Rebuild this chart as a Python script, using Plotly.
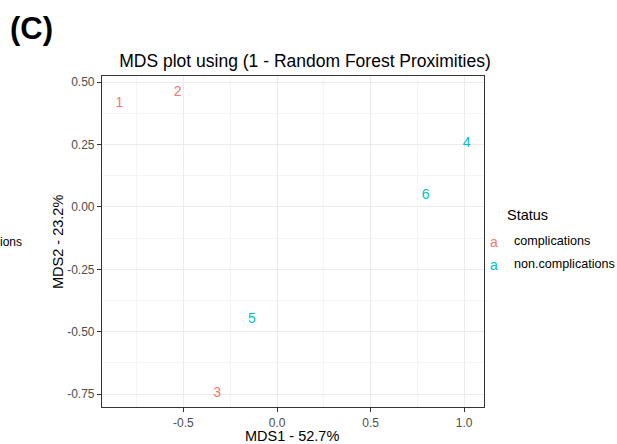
import plotly.graph_objects as go

labels = ["1", "2", "3", "4", "5", "6"]
mds1 = [-0.842, -0.531, -0.320, 1.013, -0.134, 0.794]
mds2 = [0.413, 0.458, -0.747, 0.253, -0.450, 0.044]
status = ["complications", "complications", "complications",
          "non.complications", "non.complications", "non.complications"]
groups = ["complications", "non.complications"]
colors = {"complications": "#F8766D", "non.complications": "#00BFC4"}

W, H = 617, 444
L, R, T, B = 102, 133, 76, 37

fig = go.Figure()
for g in groups:
    idx = [i for i, s in enumerate(status) if s == g]
    fig.add_trace(go.Scatter(
        x=[mds1[i] for i in idx], y=[mds2[i] for i in idx],
        text=[labels[i] for i in idx], mode="text",
        textfont=dict(color=colors[g], size=14, family="Liberation Sans"),
        name=g, showlegend=False))

def px(x):
    return (x - L) / (W - L - R)

def py(y):
    return 1 - (y - T) / (H - T - B)

ann = []
ann.append(dict(text="<b>(C)</b>", x=px(8), y=py(29), xref="paper", yref="paper",
                xanchor="left", yanchor="middle", showarrow=False,
                font=dict(size=31, color="black", family="Liberation Sans")))
ann.append(dict(text="ions", x=px(-2), y=py(242), xref="paper", yref="paper",
                xanchor="left", yanchor="middle", showarrow=False,
                font=dict(size=12, color="black", family="Liberation Sans")))
ann.append(dict(text="Status", x=px(505), y=py(215), xref="paper", yref="paper",
                xanchor="left", yanchor="middle", showarrow=False,
                font=dict(size=14.5, color="black", family="Liberation Sans")))
for k, g in enumerate(groups):
    yy = 242 + k * 23
    ann.append(dict(text="a", x=px(494), y=py(yy), xref="paper", yref="paper",
                    xanchor="center", yanchor="middle", showarrow=False,
                    font=dict(size=14, color=colors[g], family="Liberation Sans")))
    ann.append(dict(text=g, x=px(512), y=py(yy - 1), xref="paper", yref="paper",
                    xanchor="left", yanchor="middle", showarrow=False,
                    font=dict(size=12.6, color="black", family="Liberation Sans")))
ann.append(dict(text="MDS1 - 52.7%", x=px(292), y=py(436), xref="paper", yref="paper",
                xanchor="center", yanchor="middle", showarrow=False,
                font=dict(size=14.5, color="black", family="Liberation Sans")))
ann.append(dict(text="MDS2 - 23.2%", x=px(58), y=py(242), xref="paper", yref="paper",
                xanchor="center", yanchor="middle", showarrow=False, textangle=-90,
                font=dict(size=14.5, color="black", family="Liberation Sans")))

axis_common = dict(
    showline=True, linecolor="#333333", linewidth=1.2, mirror=True,
    ticks="outside", ticklen=4, tickcolor="#333333", tickwidth=1,
    showgrid=True, gridcolor="#EBEBEB", gridwidth=1, zeroline=False,
    automargin=False,
    tickfont=dict(size=12, color="#4D4D4D", family="Liberation Sans"),
)

fig.update_layout(
    width=W, height=H,
    margin=dict(l=L, r=R, t=T, b=B),
    paper_bgcolor="white", plot_bgcolor="white",
    title=dict(text="MDS plot using (1 - Random Forest Proximities)",
               x=px(305), xref="paper", xanchor="center",
               y=1 - 61 / H, yanchor="middle",
               font=dict(size=17.5, color="black", family="Liberation Sans")),
    xaxis=dict(range=[-0.935, 1.106], tickvals=[-0.5, 0.0, 0.5, 1.0],
               ticktext=["-0.5", "0.0", "0.5", "1.0"],
               minor=dict(tickvals=[-0.75, -0.25, 0.25, 0.75], showgrid=True,
                          gridcolor="#F4F4F4", gridwidth=1, ticks=""),
               **axis_common),
    yaxis=dict(range=[-0.802, 0.525], tickvals=[-0.75, -0.5, -0.25, 0.0, 0.25, 0.5],
               ticktext=["-0.75", "-0.50", "-0.25", "0.00", "0.25", "0.50"],
               minor=dict(tickvals=[-0.625, -0.375, -0.125, 0.125, 0.375], showgrid=True,
                          gridcolor="#F4F4F4", gridwidth=1, ticks=""),
               **axis_common),
    annotations=ann,
)

fig.write_html("out.html")
